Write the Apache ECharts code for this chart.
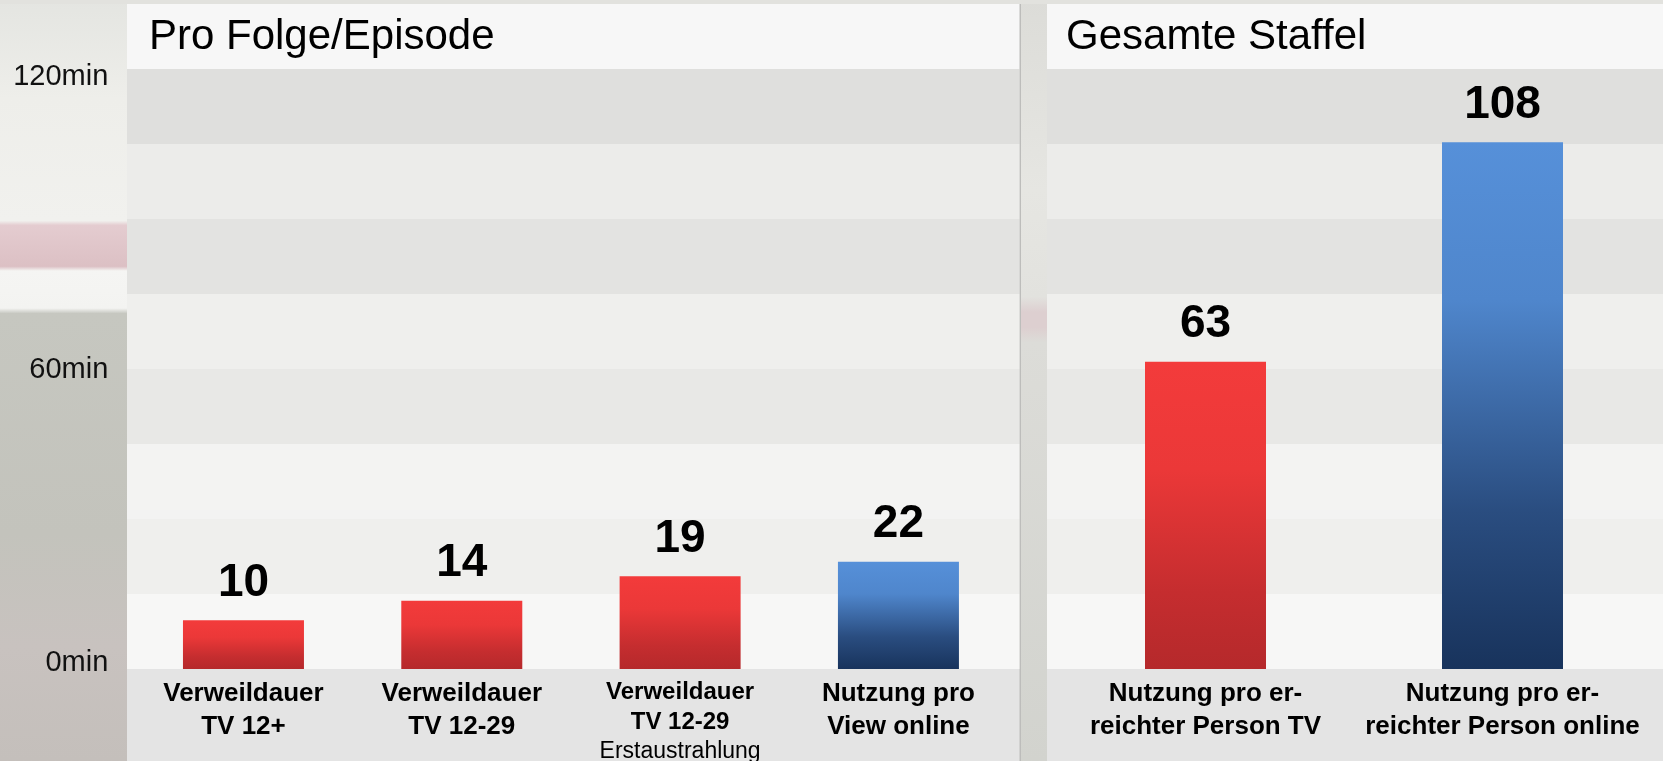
<!DOCTYPE html>
<html>
<head>
<meta charset="utf-8">
<script src="https://cdn.jsdelivr.net/npm/echarts@6/dist/echarts.min.js"></script>
<style>
  html, body { margin: 0; padding: 0; background: #d9d9d4; }
  #chart { width: 1663px; height: 761px; }
</style>
</head>
<body>
<div id="chart"></div>
<script>
// ---- data ----
const panelTitles = ['Pro Folge/Episode', 'Gesamte Staffel'];
const categoriesLeft = ['Verweildauer\nTV 12+', 'Verweildauer\nTV 12-29', 'Verweildauer\nTV 12-29\nErstaustrahlung', 'Nutzung pro\nView online'];
const valuesLeft = [10, 14, 19, 22];
const kindsLeft = ['tv', 'tv', 'tv', 'online'];
const categoriesRight = ['Nutzung pro er-\nreichter Person TV', 'Nutzung pro er-\nreichter Person online'];
const valuesRight = [63, 108];
const kindsRight = ['tv', 'online'];
const yTickValues = [0, 60, 120];
const yTickLabels = ['0min', '60min', '120min'];

// ---- styling ----
const FONT = '"Liberation Sans", Arial, Helvetica, sans-serif';
const gradients = {
  tv: { type: 'linear', x: 0, y: 0, x2: 0, y2: 1, colorStops: [
    { offset: 0, color: '#f33b3b' }, { offset: 0.35, color: '#eb3838' },
    { offset: 0.75, color: '#c52d2f' }, { offset: 1, color: '#b5292b' } ] },
  online: { type: 'linear', x: 0, y: 0, x2: 0, y2: 1, colorStops: [
    { offset: 0, color: '#5690d9' }, { offset: 0.3, color: '#4f86cc' },
    { offset: 0.7, color: '#2a4d80' }, { offset: 1, color: '#18335c' } ] }
};
const bandColors = ['#f7f7f6', '#efefed', '#f3f3f2', '#e8e8e6', '#efefed', '#e3e3e1', '#ececea', '#dfdfdd'];

const GRID_TOP = 69, GRID_H = 600, H = 761, W = 1663;
const LEFT_PANEL = { x: 127, w: 894 };
const RIGHT_PANEL = { x: 1047, w: 616 };
const Y_MAX = 123;

function makeBars(vals, kinds) {
  return vals.map((v, i) => ({ value: v, itemStyle: { color: gradients[kinds[i]] } }));
}

function catFormatter(value) {
  const lines = value.split('\n');
  if (lines.length === 3) {
    return '{s|' + lines[0] + '}\n{s|' + lines[1] + '}\n{n|' + lines[2] + '}';
  }
  return lines.map(l => '{b|' + l + '}').join('\n');
}
const catRich = {
  b: { fontFamily: FONT, fontSize: 26, fontWeight: 'bold', color: '#000', lineHeight: 33 },
  s: { fontFamily: FONT, fontSize: 24, fontWeight: 'bold', color: '#000', lineHeight: 30 },
  n: { fontFamily: FONT, fontSize: 23, fontWeight: 'normal', color: '#000', lineHeight: 29 }
};

const barLabel = {
  show: true, position: 'top', distance: 14,
  fontFamily: FONT, fontSize: 46, fontWeight: 'bold', color: '#000'
};

const chart = echarts.init(document.getElementById('chart'), null, { renderer: 'canvas' });

function gridDef(left, width) {
  return { left: left, width: width, top: GRID_TOP, height: GRID_H,
           containLabel: false, outerBoundsMode: 'none' };
}

const option = {
  animation: false,
  backgroundColor: '#d9d9d4',
  title: [
    { text: panelTitles[0], left: 149, top: 16, padding: 0,
      textStyle: { fontFamily: FONT, fontSize: 42, fontWeight: 'normal', color: '#000' } },
    { text: panelTitles[1], left: 1066, top: 16, padding: 0,
      textStyle: { fontFamily: FONT, fontSize: 42, fontWeight: 'normal', color: '#000' } }
  ],
  graphic: [
    // left photo strip
    { type: 'rect', z: -10, shape: { x: 0, y: 0, width: LEFT_PANEL.x, height: H },
      style: { fill: { type: 'linear', x: 0, y: 0, x2: 0, y2: 1, colorStops: [
        { offset: 0, color: '#e4e5e1' }, { offset: 0.13, color: '#eeeeea' },
        { offset: 0.29, color: '#f1f1ee' }, { offset: 0.296, color: '#e4ccd0' },
        { offset: 0.35, color: '#dcc0c4' }, { offset: 0.356, color: '#f5f5f3' },
        { offset: 0.405, color: '#f3f3f1' }, { offset: 0.412, color: '#c6c7c0' },
        { offset: 0.7, color: '#c3c3bc' }, { offset: 0.85, color: '#c8c2bf' },
        { offset: 1, color: '#c4bfbb' } ] } } },
    // gap between panels
    { type: 'rect', z: -10, shape: { x: 1021, y: 0, width: 26, height: H },
      style: { fill: { type: 'linear', x: 0, y: 0, x2: 0, y2: 1, colorStops: [
        { offset: 0, color: '#dcdcd8' }, { offset: 0.25, color: '#e6e6e2' },
        { offset: 0.39, color: '#e2e2de' }, { offset: 0.41, color: '#ddcfd0' },
        { offset: 0.43, color: '#ddcfd0' }, { offset: 0.45, color: '#dcdcd8' },
        { offset: 1, color: '#d2d3ce' } ] } } },
    // top strip
    { type: 'rect', z: -10, shape: { x: 0, y: 0, width: W, height: 4 },
      style: { fill: '#e2e2de' } },
    // title bars
    { type: 'rect', z: -5, shape: { x: LEFT_PANEL.x, y: 4, width: LEFT_PANEL.w, height: GRID_TOP - 4 },
      style: { fill: '#f7f7f7' } },
    { type: 'rect', z: -5, shape: { x: RIGHT_PANEL.x, y: 4, width: RIGHT_PANEL.w, height: GRID_TOP - 4 },
      style: { fill: '#f7f7f7' } },
    // category label bands
    { type: 'rect', z: -5, shape: { x: LEFT_PANEL.x, y: GRID_TOP + GRID_H, width: LEFT_PANEL.w, height: H - GRID_TOP - GRID_H },
      style: { fill: '#e4e4e4' } },
    { type: 'rect', z: -5, shape: { x: RIGHT_PANEL.x, y: GRID_TOP + GRID_H, width: RIGHT_PANEL.w, height: H - GRID_TOP - GRID_H },
      style: { fill: '#e4e4e4' } },
    // panel edge
    { type: 'rect', z: -4, shape: { x: 1019.5, y: 4, width: 1.5, height: H - 4 },
      style: { fill: '#bdbdbb' } }
  ],
  grid: [
    gridDef(134.3, 873.3),
    gridDef(1057, 594),
    gridDef(LEFT_PANEL.x, LEFT_PANEL.w - 1.5),
    gridDef(RIGHT_PANEL.x, RIGHT_PANEL.w)
  ],
  xAxis: [
    { gridIndex: 0, type: 'category', data: categoriesLeft,
      axisLine: { show: false }, axisTick: { show: false }, splitLine: { show: false },
      axisLabel: { interval: 0, margin: 8.5, formatter: catFormatter, rich: catRich, color: '#000' } },
    { gridIndex: 1, type: 'category', data: categoriesRight,
      axisLine: { show: false }, axisTick: { show: false }, splitLine: { show: false },
      axisLabel: { interval: 0, margin: 8.5, formatter: catFormatter, rich: catRich, color: '#000' } },
    { gridIndex: 2, type: 'value', show: false },
    { gridIndex: 3, type: 'value', show: false }
  ],
  yAxis: [
    { gridIndex: 0, type: 'value', min: 0, max: Y_MAX, interval: 60,
      axisLine: { show: false }, axisTick: { show: false }, splitLine: { show: false },
      axisLabel: { margin: 26, verticalAlign: 'bottom', lineHeight: 13, fontFamily: FONT, fontSize: 29, color: '#111',
        formatter: v => { const i = yTickValues.indexOf(v); return i >= 0 ? yTickLabels[i] : ''; } } },
    { gridIndex: 1, type: 'value', min: 0, max: Y_MAX, interval: 60,
      axisLine: { show: false }, axisTick: { show: false }, splitLine: { show: false },
      axisLabel: { show: false } },
    { gridIndex: 2, type: 'value', min: 0, max: 8, interval: 1,
      axisLine: { show: false }, axisTick: { show: false }, splitLine: { show: false },
      axisLabel: { show: false }, splitArea: { show: true, areaStyle: { color: bandColors } } },
    { gridIndex: 3, type: 'value', min: 0, max: 8, interval: 1,
      axisLine: { show: false }, axisTick: { show: false }, splitLine: { show: false },
      axisLabel: { show: false }, splitArea: { show: true, areaStyle: { color: bandColors } } }
  ],
  series: [
    { name: panelTitles[0], type: 'bar', xAxisIndex: 0, yAxisIndex: 0, barWidth: 121,
      data: makeBars(valuesLeft, kindsLeft), label: barLabel, z: 5 },
    { name: panelTitles[1], type: 'bar', xAxisIndex: 1, yAxisIndex: 1, barWidth: 121,
      data: makeBars(valuesRight, kindsRight), label: barLabel, z: 5 }
  ]
};
chart.setOption(option);
</script>
</body>
</html>
